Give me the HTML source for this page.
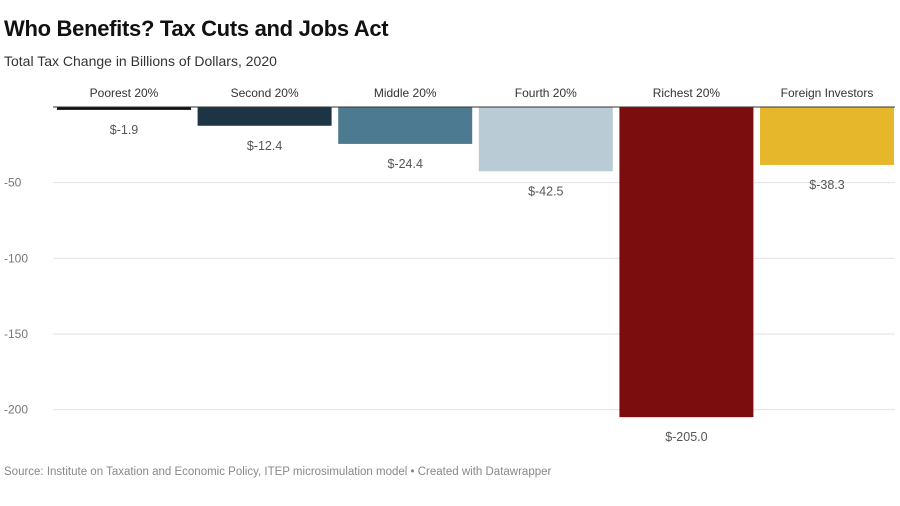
<!DOCTYPE html>
<html><head><meta charset="utf-8"><style>
body{margin:0;background:#fff;font-family:"Liberation Sans",sans-serif;}
#wrap{position:relative;width:900px;height:506px;overflow:hidden;}
</style></head><body>
<div id="wrap">
<div style="position:absolute;left:4px;top:16px;font-size:22px;font-weight:bold;color:#111;letter-spacing:-0.3px">Who Benefits? Tax Cuts and Jobs Act</div>
<div style="position:absolute;left:4px;top:53px;font-size:14px;color:#333">Total Tax Change in Billions of Dollars, 2020</div>
<svg id="chart" width="900" height="506" style="position:absolute;left:0;top:0"></svg>
<div style="position:absolute;left:4px;top:466px;font-size:11.5px;color:#888">Source: Institute on Taxation and Economic Policy, ITEP microsimulation model • Created with Datawrapper</div>
</div>
<script>
const categories=["Poorest 20%","Second 20%","Middle 20%","Fourth 20%","Richest 20%","Foreign Investors"];
const values=[-1.9,-12.4,-24.4,-42.5,-205.0,-38.3];
const colors=["#111111","#1c3444","#4c7a91","#b9cbd5","#7c0d0e","#e6b72a"];
const ticks=[-50,-100,-150,-200];
const svg=document.getElementById('chart');
const NS="http://www.w3.org/2000/svg";
const y0=107, k=1.513;
const y=v=>y0-v*k;
const x0=57, bw=134, step=140.6;
const x=i=>x0+i*step;
function mk(t,a){const e=document.createElementNS(NS,t);for(const q in a)e.setAttribute(q,a[q]);svg.appendChild(e);return e;}
ticks.forEach(t=>{
 const g=mk('line',{x1:53,x2:895,y1:y(t),y2:y(t),stroke:'#e2e2e2','stroke-width':1});
 
 
 const l=mk('text',{x:4,y:y(t)+4,'font-size':12,fill:'#777','font-family':'Liberation Sans, sans-serif'});
 l.textContent=t;
 
 
});
values.forEach((v,i)=>{
 const r=mk('rect',{x:x(i),y:y(0),width:bw,height:Math.max(2,y(v)-y(0)),fill:colors[i]});
 
 
 const c=mk('text',{x:x(i)+bw/2,y:97,'font-size':12,fill:'#333','text-anchor':'middle','font-family':'Liberation Sans, sans-serif'});
 c.textContent=categories[i];
 
 
 const vl=mk('text',{x:x(i)+bw/2,y:Math.max(y(v),y(0)+2)+24,'font-size':12.5,fill:'#555','text-anchor':'middle','font-family':'Liberation Sans, sans-serif'});
 vl.textContent='$'+v.toFixed(1);
 
 
});
const z=mk('line',{x1:53,x2:895,y1:y0,y2:y0,stroke:'#333','stroke-width':1});


</script>
</body></html>
